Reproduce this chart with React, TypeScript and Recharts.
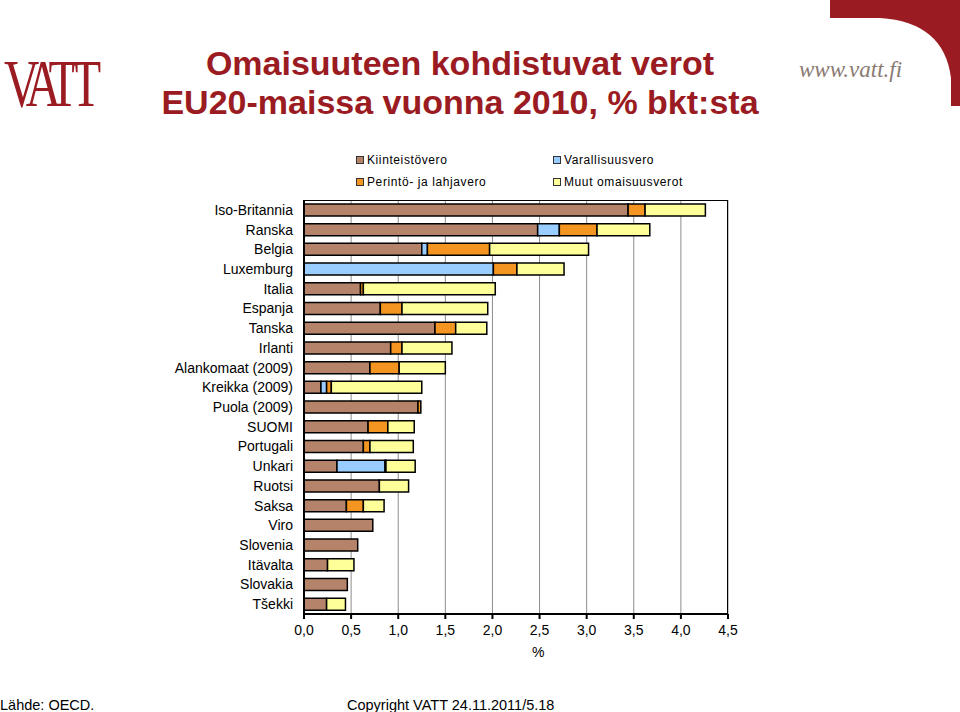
import React from "react";
import { BarChart, Bar, XAxis, YAxis, CartesianGrid } from "recharts";

// Omaisuusverot % bkt:sta, EU20, 2010 (lähde OECD)
const countries = [
  "Iso-Britannia", "Ranska", "Belgia", "Luxemburg", "Italia", "Espanja", "Tanska",
  "Irlanti", "Alankomaat (2009)", "Kreikka (2009)", "Puola (2009)", "SUOMI",
  "Portugali", "Unkari", "Ruotsi", "Saksa", "Viro", "Slovenia", "Itävalta",
  "Slovakia", "Tšekki",
];
const kiinteisto = [3.44, 2.48, 1.25, 0, 0.6, 0.81, 1.39, 0.92, 0.7, 0.18, 1.21, 0.68, 0.63, 0.35, 0.8, 0.45, 0.73, 0.57, 0.25, 0.46, 0.24];
const varallisuus = [0, 0.23, 0.06, 2.01, 0, 0, 0, 0, 0, 0.06, 0, 0, 0, 0.51, 0, 0, 0, 0, 0, 0, 0];
const perinto = [0.18, 0.4, 0.66, 0.25, 0.03, 0.23, 0.22, 0.12, 0.31, 0.05, 0.03, 0.21, 0.07, 0.01, 0, 0.18, 0, 0, 0, 0, 0];
const muut = [0.64, 0.56, 1.05, 0.5, 1.4, 0.91, 0.33, 0.53, 0.49, 0.96, 0, 0.28, 0.46, 0.31, 0.31, 0.22, 0, 0, 0.28, 0, 0.2];
const xTicks = [0, 0.5, 1, 1.5, 2, 2.5, 3, 3.5, 4, 4.5];

const series = [
  { key: "kiinteisto", name: "Kiinteistövero", fill: "#b5836a" },
  { key: "varallisuus", name: "Varallisuusvero", fill: "#99ccff" },
  { key: "perinto", name: "Perintö- ja lahjavero", fill: "#f39520" },
  { key: "muut", name: "Muut omaisuusverot", fill: "#ffff99" },
];

const data = countries.map((name, i) => ({
  name,
  kiinteisto: kiinteisto[i],
  varallisuus: varallisuus[i],
  perinto: perinto[i],
  muut: muut[i],
}));

const RED = "#9b1b22";
const FONT = "'Liberation Sans', Arial, sans-serif";

const legendPos = [
  { left: 356, top: 153 },
  { left: 553, top: 153 },
  { left: 356, top: 175 },
  { left: 553, top: 175 },
];

export default function App() {
  return (
    <div style={{ position: "absolute", left: 0, top: 0, width: 960, height: 712, overflow: "hidden", background: "#fff", fontFamily: FONT }}>
      {/* corner decoration */}
      <svg width={960} height={712} style={{ position: "absolute", left: 0, top: 0 }}>
        <path d="M830,0 L960,0 L960,106 L951,106 L951,78 Q944,22 880,18 L830,18 Z" fill={RED} />
      </svg>
      <div style={{ position: "absolute", left: 4, top: 49, fontFamily: "'Liberation Serif', serif", fontSize: 68, color: RED, letterSpacing: -10, lineHeight: "68px", transform: "scaleX(0.72)", transformOrigin: "left", whiteSpace: "nowrap" }}>
        VATT
      </div>
      <div style={{ position: "absolute", left: 799, top: 57, fontFamily: "'Liberation Serif', serif", fontStyle: "italic", fontSize: 23, color: "#8a7a72" }}>
        www.vatt.fi
      </div>
      <div style={{ position: "absolute", left: 0, width: 920, top: 44, textAlign: "center", fontWeight: "bold", fontSize: 34, color: RED, lineHeight: "39px" }}>
        Omaisuuteen kohdistuvat verot
        <br />
        EU20-maissa vuonna 2010, % bkt:sta
      </div>

      {series.map((s, i) => (
        <div key={s.key} style={{ position: "absolute", left: legendPos[i].left, top: legendPos[i].top, display: "flex", alignItems: "center", fontSize: 12, letterSpacing: 0.6, color: "#000", lineHeight: "14px", whiteSpace: "nowrap" }}>
          <span style={{ display: "inline-block", width: 6, height: 6, background: s.fill, border: "1px solid #333", marginRight: 3 }} />
          {s.name}
        </div>
      ))}

      <div style={{ position: "absolute", left: 0, top: 0 }}>
        <BarChart
          width={960}
          height={712}
          data={data}
          layout="vertical"
          margin={{ top: 200, right: 232, bottom: 0, left: 0 }}
          barCategoryGap="20%"
        >
          <CartesianGrid horizontal={false} stroke="#8c8c8c" strokeWidth={1} />
          <XAxis
            type="number"
            domain={[0, 4.5]}
            ticks={xTicks}
            interval={0}
            height={98}
            tickSize={5}
            tickMargin={6}
            stroke="#000"
            strokeWidth={2}
            tick={{ fontSize: 14, fill: "#000", fontFamily: FONT }}
            tickFormatter={(v: number) => v.toFixed(1).replace(".", ",")}
          />
          <YAxis
            type="category"
            dataKey="name"
            width={304}
            tickLine={false}
            tickSize={0}
            tickMargin={11}
            interval={0}
            stroke="#000"
            strokeWidth={2}
            tick={{ fontSize: 14, fill: "#000", fontFamily: FONT }}
          />
          {series.map((s) => (
            <Bar
              key={s.key}
              dataKey={s.key}
              name={s.name}
              stackId="a"
              fill={s.fill}
              stroke="#000"
              strokeWidth={1.5}
              isAnimationActive={false}
            />
          ))}
        </BarChart>
      </div>

      {/* plot area border (top and right) */}
      <div style={{ position: "absolute", left: 304, top: 200, width: 423, height: 414, borderTop: "1.5px solid #000", borderRight: "1.5px solid #000", pointerEvents: "none" }} />

      <div style={{ position: "absolute", left: 532, top: 644, fontSize: 14, color: "#000" }}>%</div>

      <div style={{ position: "absolute", left: 0, top: 697, fontSize: 14.5, color: "#000" }}>Lähde: OECD.</div>
      <div style={{ position: "absolute", left: 347, top: 697, fontSize: 14.5, color: "#000" }}>Copyright VATT 24.11.2011/5.18</div>
    </div>
  );
}
